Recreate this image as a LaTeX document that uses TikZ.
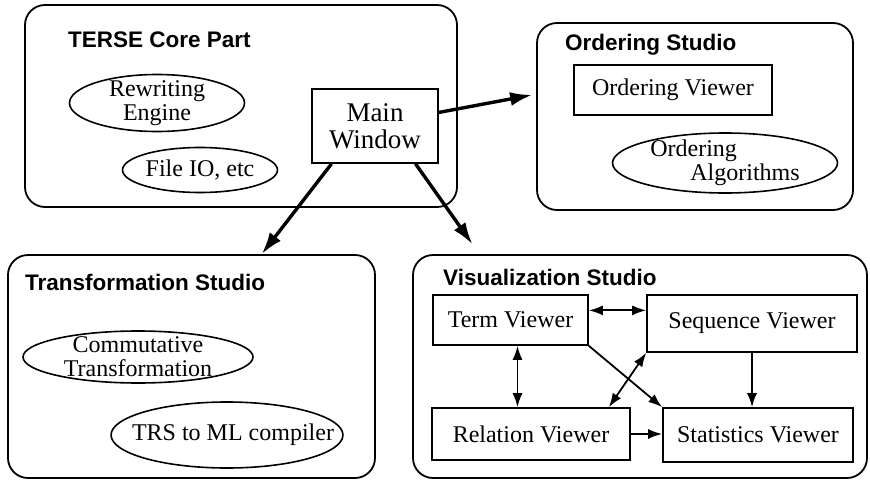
\documentclass[tikz,border=0pt]{standalone}
\usepackage{fontspec}
\setmainfont{Liberation Serif}
\newfontfamily\titlefont{Liberation Sans}
\usetikzlibrary{arrows.meta, calc, positioning, shapes.geometric}

\begin{document}
\begin{tikzpicture}[
    x=1pt, y=-1pt,
    every node/.style={font=\fontsize{24}{24}\selectfont, inner sep=0pt},
    studio/.style={draw, line width=1.8pt, rounded corners=20pt},
    title/.style={anchor=base west, font=\titlefont\fontsize{22.5}{24}\bfseries\selectfont},
    part/.style={draw, line width=1.6pt, ellipse, align=center, inner xsep=-25pt, inner ysep=-8pt},
    viewer/.style={draw, line width=1.6pt, rectangle, align=center},
    bigarrow/.style={-{Latex[length=22pt,width=14pt]}, line width=3.4pt},
    link/.style={-{Latex[length=14pt,width=10pt]}, line width=1.8pt},
    dbllink/.style={{Latex[length=14pt,width=10pt]}-{Latex[length=14pt,width=10pt]}, line width=1.8pt},
]
\useasboundingbox (0,0) rectangle (870,482);
% the four studios
\node[studio, minimum width=432, minimum height=202] (core) at (241,106) {};
\node[studio, minimum width=316, minimum height=187] (ordering) at (695,116.5) {};
\node[studio, minimum width=367, minimum height=223] (trans) at (191.5,366.5) {};
\node[studio, minimum width=454, minimum height=223] (viz) at (640,366.5) {};
\node[title] (coretitle) at (68,47) {TERSE Core Part};
\node[title] (ordtitle) at (565,50) {Ordering Studio};
\node[title] (transtitle) at (25,290) {Transformation Studio};
\node[title] (viztitle) at (443,285) {Visualization Studio};
% core part
\node[part, minimum width=175, minimum height=57] (rewrite) at (157,103) {Rewriting\\Engine};
\node[part, minimum width=155, minimum height=45] (fileio) at (200,170) {File IO, etc};
\node[viewer, minimum width=126, minimum height=74, font=\fontsize{27}{27}\selectfont] (main) at (375,126) {Main\\Window};
% ordering studio
\node[viewer, minimum width=198, minimum height=50] (ordview) at (673,90) {Ordering Viewer};
\node[part, minimum width=225, minimum height=60, align=left] (ordalg) at (725,163) {Ordering\\\hspace*{40pt}Algorithms};
% transformation studio
\node[part, minimum width=230, minimum height=52] (commut) at (138,357) {Commutative\\Transformation};
\node[part, minimum width=220, minimum height=66] (trs) at (227,435) {\hspace*{12pt}TRS to ML compiler};
% visualization studio
\node[viewer, minimum width=155, minimum height=50] (term) at (510.5,320) {Term Viewer};
\node[viewer, minimum width=210, minimum height=57] (seq) at (752,323.5) {Sequence Viewer};
\node[viewer, minimum width=198, minimum height=52] (rel) at (531,434) {Relation Viewer};
\node[viewer, minimum width=190, minimum height=54] (stats) at (758,435) {Statistics Viewer};
% main window to the studios
\draw[bigarrow, shorten >=4pt] (main.12) -- (ordering.172);
\draw[bigarrow] (main.221) -- (trans.58);
\draw[bigarrow, shorten >=12pt] (main.317) -- (viz.145);
% viewer links
\draw[dbllink] (term.7) -- (term.7 -| seq.west);
\draw[dbllink] ([xshift=7pt]term.south) -- ([xshift=7pt]term.south |- rel.north);
\draw[link] (term.south east) -- (stats.north west);
\draw[dbllink] (seq.south west) -- (rel.19);
\draw[link] (seq.south) -- (seq.south |- stats.north);
\draw[link] (rel.east) -- (rel.east -| stats.west);
\end{tikzpicture}
\end{document}
